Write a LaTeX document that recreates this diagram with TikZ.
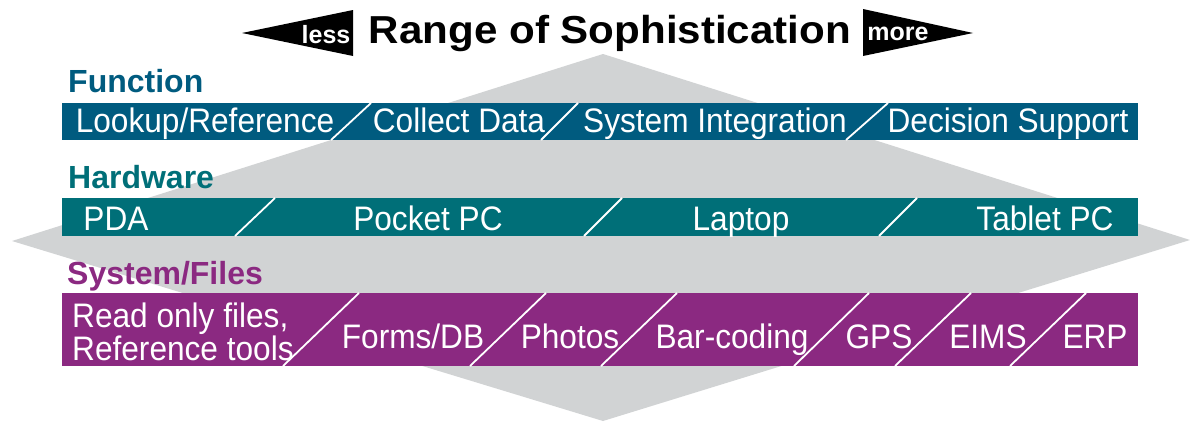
\documentclass[tikz,border=0pt]{standalone}
\usepackage{fontspec}
\setmainfont{Liberation Sans}
\newfontfamily\bandfont[FakeStretch=0.93]{Liberation Sans}
\newfontfamily\headfont[FakeStretch=1.08]{Liberation Sans}
\definecolor{funcblue}{RGB}{0,91,127}
\definecolor{hardteal}{RGB}{0,111,120}
\definecolor{syspurple}{RGB}{139,41,129}
\definecolor{diamondgray}{RGB}{209,211,212}
\begin{document}
\begin{tikzpicture}[x=1pt,y=-1pt,
  band/.style={anchor=north west, minimum width=1076pt, inner sep=0pt, outer sep=0pt},
  bandtxt/.style={anchor=base, text=white, inner sep=0pt, font=\bandfont\fontsize{34}{28}\selectfont},
  sectitle/.style={anchor=base west, inner sep=0pt, font=\bfseries\fontsize{32}{32}\selectfont},
  arrowtxt/.style={anchor=base, text=white, inner sep=0pt, font=\bfseries\fontsize{25}{25}\selectfont},
  divider/.style={white, line width=1.8pt}]
\useasboundingbox (0,0) rectangle (1190,423);
% background diamond
\fill[diamondgray] (603,54) -- (1190,240) -- (603,421) -- (12,241) -- cycle;

% header
\fill[black] (242,33) -- (353,10) -- (353,56) -- cycle;
\fill[black] (863,9) -- (973,33) -- (863,56) -- cycle;
\node[arrowtxt] (less) at (326,43) {less};
\node[arrowtxt] (more) at (898,40) {more};
\node[anchor=base, inner sep=0pt, font=\headfont\bfseries\fontsize{39}{39}\selectfont] (title) at (610,43) {Range of Sophistication};

% Function
\node[sectitle, text=funcblue] (functitle) at (68,92) {Function};
\node[band, fill=funcblue, minimum height=37pt] (funcband) at (62,103) {};
\node[bandtxt] (f1) at (205,132) {Lookup/Reference};
\node[bandtxt] (f2) at (459,132) {Collect Data};
\node[bandtxt] (f3) at (715,132) {System Integration};
\node[bandtxt] (f4) at (1008,132) {Decision Support};
\draw[divider] (331,140) -- (371,103);
\draw[divider] (541,140) -- (578,103);
\draw[divider] (846,140) -- (888,103);

% Hardware
\node[sectitle, text=hardteal] (hardtitle) at (68,188) {Hardware};
\node[band, fill=hardteal, minimum height=38pt] (hardband) at (62,198) {};
\node[bandtxt] (h1) at (116,230) {PDA};
\node[bandtxt] (h2) at (428,230) {Pocket PC};
\node[bandtxt] (h3) at (741,230) {Laptop};
\node[bandtxt] (h4) at (1045,230) {Tablet PC};
\draw[divider] (235,236) -- (275,198);
\draw[divider] (584,236) -- (622,198);
\draw[divider] (879,236) -- (917,198);

% System/Files
\node[sectitle, text=syspurple] (systitle) at (67,284) {System/Files};
\node[band, fill=syspurple, minimum height=73pt] (sysband) at (62,293) {};
\node[bandtxt, anchor=base west] (s1) at (72,327)
  {\begin{tabular}[t]{@{}l@{}}Read only files,\\Reference tools\end{tabular}};
\node[bandtxt] (s2) at (413,348) {Forms/DB};
\node[bandtxt] (s3) at (570,348) {Photos};
\node[bandtxt] (s4) at (732,348) {Bar-coding};
\node[bandtxt] (s5) at (879,348) {GPS};
\node[bandtxt] (s6) at (988,348) {EIMS};
\node[bandtxt] (s7) at (1095,348) {ERP};
\draw[divider] (283,366) -- (359,293);
\draw[divider] (470,366) -- (546,293);
\draw[divider] (601,366) -- (677,293);
\draw[divider] (794,366) -- (869,293);
\draw[divider] (895,366) -- (971,293);
\draw[divider] (1010,366) -- (1086,293);
\end{tikzpicture}
\end{document}
